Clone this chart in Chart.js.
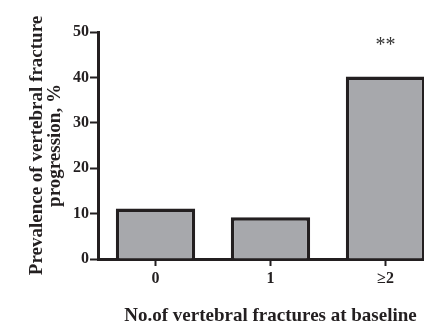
<!DOCTYPE html>
<html>
<head>
<meta charset="utf-8">
<script src="https://cdn.jsdelivr.net/npm/chart.js@4/dist/chart.umd.min.js"></script>
<style>
  html, body { margin: 0; padding: 0; background: #fff; overflow: hidden; }
  #wrap { position: relative; width: 450px; height: 328px; }
</style>
</head>
<body>
<div id="wrap"><canvas id="c"></canvas></div>
<script>
// Data
const categories = ['0', '1', '\u22652'];
const prevalence = [11.1, 9.2, 40.2];
const significance = ['', '', '**'];
const yTicks = [0, 10, 20, 30, 40, 50];

const ink = '#231f20';
const barFill = '#a7a8ac';
const serif = "'Liberation Serif', 'Times New Roman', serif";

// Draws the significance marks above their bars
const sigPlugin = {
  id: 'sigMarks',
  afterDatasetsDraw(chart) {
    const { ctx } = chart;
    const meta = chart.getDatasetMeta(0);
    ctx.save();
    ctx.fillStyle = '#333';
    ctx.font = '20px ' + serif;
    ctx.textAlign = 'center';
    ctx.textBaseline = 'alphabetic';
    meta.data.forEach((bar, i) => {
      if (significance[i]) {
        ctx.fillText(significance[i], bar.x, bar.y - 25);
      }
    });
    ctx.restore();
  }
};

new Chart(document.getElementById('c'), {
  type: 'bar',
  data: {
    labels: categories,
    datasets: [{
      data: prevalence,
      backgroundColor: barFill,
      borderColor: ink,
      borderWidth: 3.5,
      borderSkipped: 'start',
      barPercentage: 0.69,
      categoryPercentage: 1
    }]
  },
  options: {
    responsive: true,
    maintainAspectRatio: false,
    animation: false,
    layout: { padding: { top: 32, right: 7, left: 0, bottom: 0 } },
    plugins: { legend: { display: false }, tooltip: { enabled: false } },
    scales: {
      x: {
        offset: true,
        grid: { offset: false, drawOnChartArea: false, drawTicks: true, tickLength: 7, tickColor: ink, tickWidth: 2 },
        border: { display: true, color: ink, width: 3 },
        ticks: { color: ink, font: { family: serif, size: 16, weight: 'bold' }, padding: 3 },
        title: {
          display: true,
          text: 'No.of vertebral fractures at baseline',
          color: ink,
          font: { family: serif, size: 19, weight: 'bold' },
          padding: { top: 0, bottom: 1 }
        },
        afterFit(scale) { scale.height = 69; }
      },
      y: {
        min: 0,
        max: 50,
        afterBuildTicks(scale) { scale.ticks = yTicks.map(v => ({ value: v })); },
        grid: { drawOnChartArea: false, drawTicks: true, tickLength: 8, tickColor: ink, tickWidth: 2 },
        border: { display: true, color: ink, width: 3 },
        ticks: { color: ink, font: { family: serif, size: 16, weight: 'bold' }, padding: 1 },
        title: {
          display: true,
          text: ['Prevalence of vertebral fracture', 'progression, %'],
          color: ink,
          font: { family: serif, size: 19, weight: 'bold', lineHeight: 0.95 },
          padding: { top: 28, bottom: 0 }
        },
        afterFit(scale) { scale.width = 98; }
      }
    }
  },
  plugins: [sigPlugin]
});
</script>
</body>
</html>
